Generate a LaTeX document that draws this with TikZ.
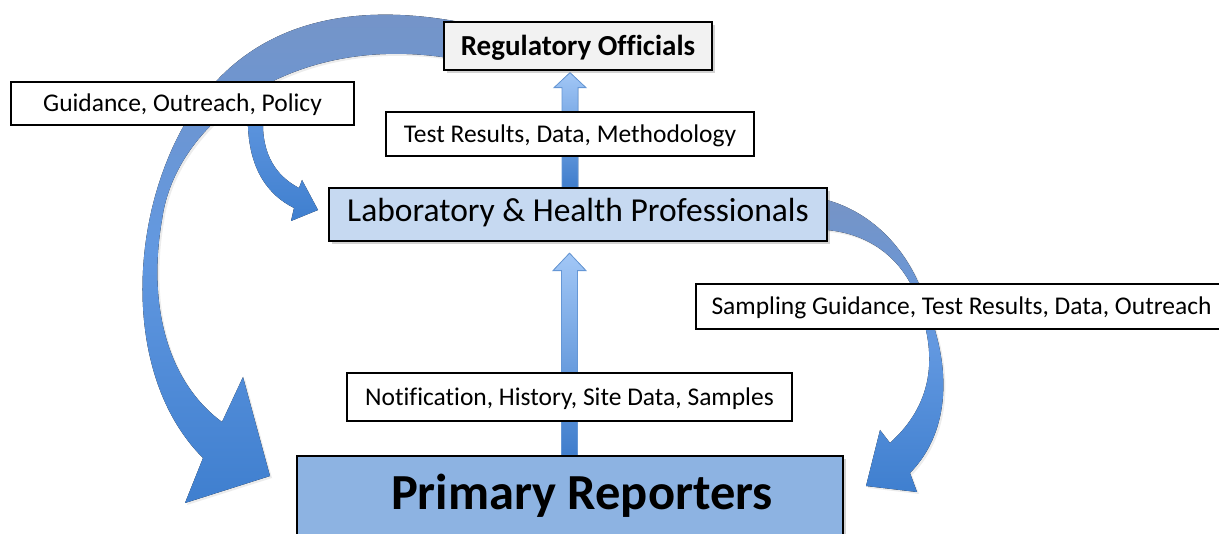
\documentclass[tikz,border=0pt]{standalone}
\usepackage{fontspec}
\setmainfont[Ligatures=NoCommon]{Carlito}
\usetikzlibrary{calc}
\usetikzlibrary{shadows}
\usetikzlibrary{backgrounds}
\definecolor{regfill}{HTML}{F2F2F2}
\definecolor{labfill}{HTML}{C6D9F1}
\definecolor{repfill}{HTML}{8DB3E2}
\definecolor{arctop}{HTML}{7694C6}
\definecolor{arcmid}{HTML}{6298E0}
\definecolor{arcbot}{HTML}{3F7FCF}
\definecolor{shafttop}{HTML}{A2C7F6}
\definecolor{shaftbot}{HTML}{3F7DCC}
\tikzstyle{tagbox}=[draw=black,fill=white,line width=1.2pt,inner sep=0pt,text height=22.8pt,text depth=6.4pt,font=\fontsize{25.5}{30}\selectfont]
\tikzstyle{actor}=[draw=black,line width=1.3pt,inner sep=0pt,drop shadow={opacity=0.35,shadow xshift=3pt,shadow yshift=-3pt}]
\tikzstyle{blockarc}=[top color=arctop,bottom color=arcbot,middle color=arcmid]
\tikzstyle{shaft}=[top color=shafttop,bottom color=shaftbot,draw=shaftbot!80,line width=0.8pt]
\tikzset{every picture/.style={
    x=1pt,y=-1pt
  }
}
\begin{document}
\begin{tikzpicture}
      \useasboundingbox (0,0) rectangle (1219,534);
      \node[actor,fill=regfill,minimum width=268pt,minimum height=48pt,text height=26pt,text depth=7.3pt,font=\fontsize{29}{34}\selectfont\bfseries] at (578,46) (reg) {Regulatory Officials};
      \node[tagbox,minimum width=343pt,minimum height=43pt] at (182.5,103.5) (guide) {Guidance, Outreach, Policy};
      \node[tagbox,minimum width=368pt,minimum height=44pt] at (570,134) (test) {Test Results, Data, Methodology};
      \node[actor,fill=labfill,minimum width=498pt,minimum height=53pt,text height=23.4pt,text depth=8.4pt,font=\fontsize{33.5}{38}\selectfont] at (578,214.5) (lab) {Laboratory \& Health Professionals};
      \node[tagbox,minimum width=531pt,minimum height=45pt] at (961.5,306.5) (sampling) {Sampling Guidance, Test Results, Data, Outreach};
      \node[tagbox,minimum width=445pt,minimum height=48pt] at (569.5,397) (notif) {Notification, History, Site Data, Samples};
      \node[actor,fill=repfill,minimum width=546pt,minimum height=84pt,text height=36.6pt,text depth=12.6pt,font=\fontsize{50.5}{56}\selectfont\bfseries] at (570,498) (rep) {\hspace*{24pt}Primary Reporters};
      \coordinate (upfoot) at (test.center |- lab.north);
      \coordinate (uptip) at (test.center |- reg.south);
      \coordinate (lowfoot) at (notif.center |- rep.north);
      \coordinate (lowtip) at (notif.center |- lab.south);
      \begin{scope}[on background layer]
        \fill[white] (0,0) rectangle (1219,534);
        % regulatory officials back down to the reporters
        \fill[blockarc,drop shadow={opacity=0.15,shadow xshift=2pt,shadow yshift=-2pt}] (470,24) .. controls (330,-5) and (210,30) .. (160,180)
          .. controls (130,270) and (135,390) .. (203,458)
          -- (185,503) -- (270,476) -- (243,377) -- (222,422)
          .. controls (165,380) and (148,300) .. (162,220)
          .. controls (175,120) and (300,25) .. (470,62) -- cycle;
        \fill[top color=arcmid,bottom color=arcbot] (247,100) -- (248,127) .. controls (250,170) and (268,195) .. (294,208)
          -- (291,221) -- (318,210) -- (302,180) -- (299,188)
          .. controls (280,178) and (264,160) .. (263,127) -- (263,100) -- cycle;
        % laboratory back down to the reporters
        \fill[blockarc,drop shadow={opacity=0.15,shadow xshift=2pt,shadow yshift=-2pt}] (810,200) -- (827,200) .. controls (880,215) and (915,260) .. (928,310)
          .. controls (950,365) and (952,430) .. (910,473)
          -- (917,492) -- (866,486) -- (880,430) -- (890,443)
          .. controls (932,405) and (936,360) .. (922,315)
          .. controls (912,270) and (880,235) .. (827,230) -- (810,230) -- cycle;
        % upward flows
        \filldraw[shaft] ($(upfoot)+(-8,0)$) -- ($(uptip)+(-8,17)$) -- ($(uptip)+(-16,17)$) -- ($(uptip)+(0,2)$)
          -- ($(uptip)+(16,17)$) -- ($(uptip)+(8,17)$) -- ($(upfoot)+(8,0)$) -- cycle;
        \filldraw[shaft] ($(lowfoot)+(-8,0)$) -- ($(lowtip)+(-8,29)$) -- ($(lowtip)+(-16.5,29)$) -- ($(lowtip)+(0,11.5)$)
          -- ($(lowtip)+(16.5,29)$) -- ($(lowtip)+(8,29)$) -- ($(lowfoot)+(8,0)$) -- cycle;
      \end{scope}
    \end{tikzpicture}
\end{document}
